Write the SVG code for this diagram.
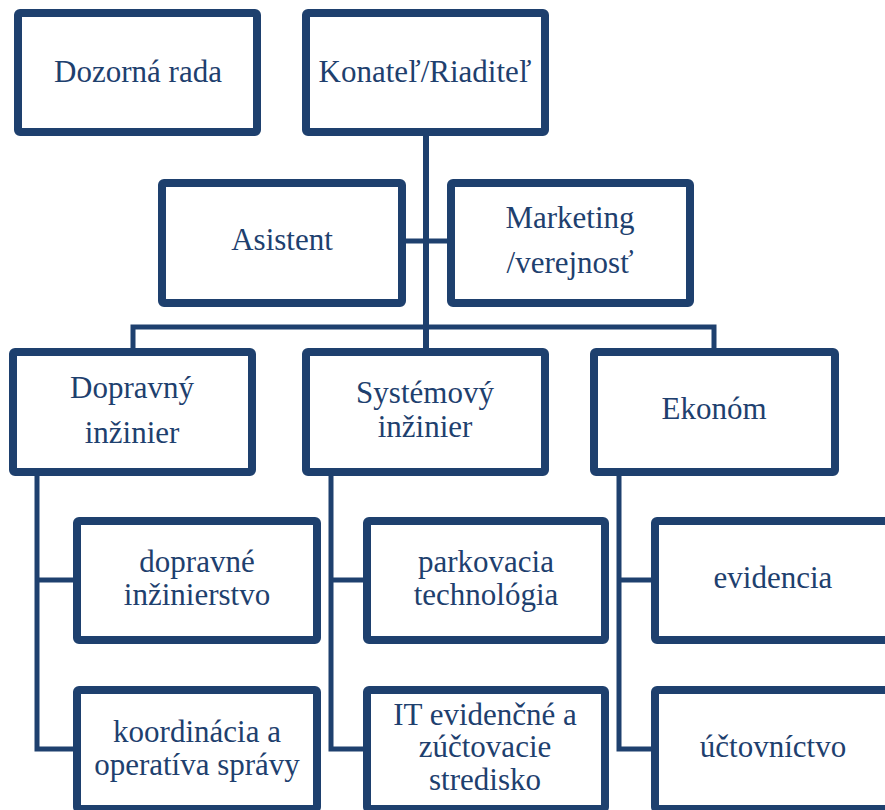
<svg xmlns="http://www.w3.org/2000/svg" width="885" height="810" viewBox="0 0 885 810">
<style>
.box{fill:#fff;stroke:#1e406e;stroke-width:8}
.c{fill:none;stroke:#1e406e;stroke-width:5}
</style>
<rect width="885" height="810" fill="#fff"/>
<g id="connectors">
<path class="c" d="M426 136V348" style="stroke-width:6"/>
<path class="c" d="M402 241H451"/>
<path class="c" d="M133 348V327H714V348"/>
<path class="c" d="M37 476V749H77M37 580H77"/>
<path class="c" d="M331 476V749H367M331 580H367"/>
<path class="c" d="M619 476V749H655M619 580H655"/>
</g>
<g font-family="Liberation Serif, DejaVu Serif, serif" font-size="31" fill="#1e406e" text-anchor="middle">
<g id="dozorna"><rect class="box" x="18" y="13" width="239" height="119" rx="2"/><text x="138" y="82">Dozorná rada</text></g>
<g id="konatel"><rect class="box" x="306" y="13" width="239" height="119" rx="2"/><text x="425" y="82">Konateľ/Riaditeľ</text></g>
<g id="asistent"><rect class="box" x="162" y="183" width="240" height="120" rx="2"/><text x="282" y="250">Asistent</text></g>
<g id="marketing"><rect class="box" x="451" y="183" width="239" height="120" rx="2"/><text x="570" y="228">Marketing</text><text x="570" y="273">/verejnosť</text></g>
<g id="dopravny"><rect class="box" x="13" y="352" width="239" height="120" rx="2"/><text x="132" y="398">Dopravný</text><text x="132" y="443">inžinier</text></g>
<g id="systemovy"><rect class="box" x="306" y="352" width="239" height="120" rx="2"/><text x="425" y="403">Systémový</text><text x="425" y="437">inžinier</text></g>
<g id="ekonom"><rect class="box" x="594" y="352" width="241" height="120" rx="2"/><text x="714" y="419">Ekonóm</text></g>
<g id="dopravne-inz"><rect class="box" x="77" y="521" width="240" height="119" rx="2"/><text x="197" y="572">dopravné</text><text x="197" y="605">inžinierstvo</text></g>
<g id="parkovacia"><rect class="box" x="367" y="521" width="238" height="119" rx="2"/><text x="486" y="572">parkovacia</text><text x="486" y="605">technológia</text></g>
<g id="evidencia"><rect class="box" x="655" y="521" width="240" height="119" rx="2"/><text x="773" y="588">evidencia</text></g>
<g id="koordinacia"><rect class="box" x="77" y="690" width="240" height="119" rx="2"/><text x="197" y="742">koordinácia a</text><text x="197" y="775">operatíva správy</text></g>
<g id="it-evidencne"><rect class="box" x="367" y="690" width="238" height="119" rx="2"/><text x="485" y="725">IT evidenčné a</text><text x="485" y="757">zúčtovacie</text><text x="485" y="790">stredisko</text></g>
<g id="uctovnictvo"><rect class="box" x="655" y="690" width="240" height="119" rx="2"/><text x="773" y="757">účtovníctvo</text></g>
</g>
</svg>
